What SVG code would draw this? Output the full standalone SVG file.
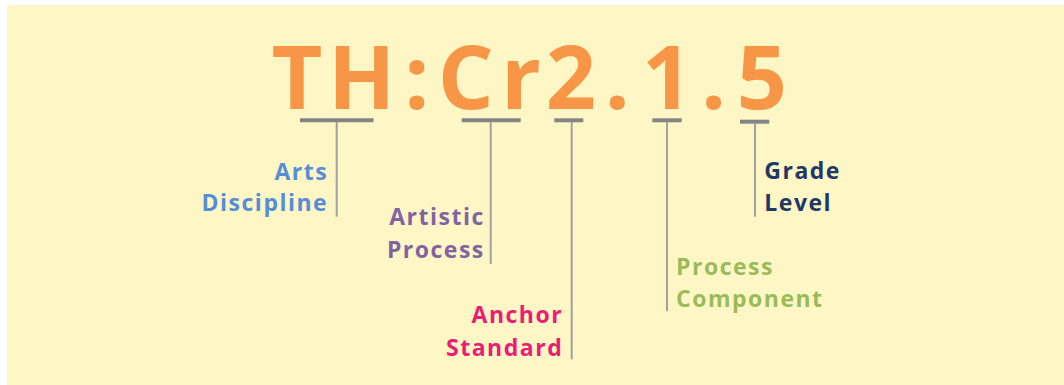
<svg xmlns="http://www.w3.org/2000/svg" width="1064" height="385" viewBox="0 0 1064 385">
<style>
.big{font-family:"Open Sans","Noto Sans",sans-serif;font-weight:700;font-size:88px;fill:#F79646;text-anchor:middle}
.lbl{font-family:"Open Sans","Noto Sans",sans-serif;font-weight:700;font-size:23px;letter-spacing:1.5px}
.bar{stroke:#858585;stroke-width:4}
.stem{stroke:#A0A0A0;stroke-width:2}
.end{text-anchor:end}
</style>
<rect x="7" y="5" width="1057" height="380" fill="#FFF6C6"/>
<g id="code">
<text class="big" y="108.5"><tspan x="297">T</tspan><tspan x="361.6">H</tspan><tspan x="416.7">:</tspan><tspan x="465.8">C</tspan><tspan x="521">r</tspan><tspan x="570.8">2</tspan><tspan x="617.3">.</tspan><tspan x="667.2">1</tspan><tspan x="713.5">.</tspan><tspan x="761.9">5</tspan></text>
</g>
<g id="connectors">
<line class="bar" x1="300" y1="120.3" x2="373.5" y2="120.3"/>
<line class="stem" x1="336.7" y1="122" x2="336.7" y2="216.7"/>
<line class="bar" x1="461.7" y1="120.3" x2="520.7" y2="120.3"/>
<line class="stem" x1="490.7" y1="122" x2="490.7" y2="264"/>
<line class="bar" x1="554.3" y1="120.3" x2="583.3" y2="120.3"/>
<line class="stem" x1="571.7" y1="122" x2="571.7" y2="359.3"/>
<line class="bar" x1="652.3" y1="120.3" x2="681.7" y2="120.3"/>
<line class="stem" x1="667" y1="122" x2="667" y2="311"/>
<line class="bar" x1="740" y1="121.7" x2="769.3" y2="121.7"/>
<line class="stem" x1="755" y1="123" x2="755" y2="216.7"/>
</g>
<g id="arts-discipline">
<text class="lbl end" fill="#558ED5"><tspan x="328.2" y="180">Arts</tspan><tspan x="328.2" y="210.7">Discipline</tspan></text>
</g>
<g id="artistic-process">
<text class="lbl end" fill="#8064A2"><tspan x="484.8" y="225">Artistic</tspan><tspan x="484.8" y="258">Process</tspan></text>
</g>
<g id="anchor-standard">
<text class="lbl end" fill="#EC1C74"><tspan x="563.2" y="323.3">Anchor</tspan><tspan x="563.2" y="356">Standard</tspan></text>
</g>
<g id="process-component">
<text class="lbl" fill="#9BBB59"><tspan x="676" y="275">Process</tspan><tspan x="676" y="306.7">Component</tspan></text>
</g>
<g id="grade-level">
<text class="lbl" fill="#1F3864"><tspan x="764.3" y="179">Grade</tspan><tspan x="764.3" y="210.7">Level</tspan></text>
</g>
</svg>
